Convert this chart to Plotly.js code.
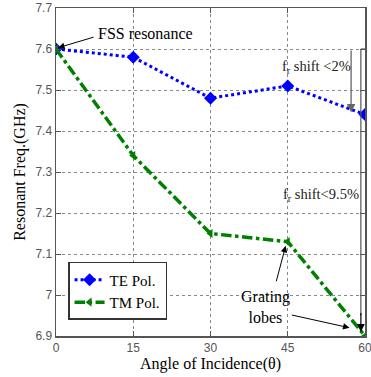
<!DOCTYPE html>
<html><head><meta charset="utf-8">
<script src="https://cdn.plot.ly/plotly-3.0.1.min.js"></script>
<style>body{margin:0;background:#fff}#c{width:371px;height:377px}</style>
</head><body><div id="c"></div>
<script>
var angles = [0, 15, 30, 45, 60];
var teFreq = [7.60, 7.58, 7.48, 7.51, 7.44];
var tmFreq = [7.60, 7.34, 7.15, 7.13, 6.90];
var xTicks = [0, 15, 30, 45, 60];
var yTicks = [6.9, 7.0, 7.1, 7.2, 7.3, 7.4, 7.5, 7.6, 7.7];
var yTickText = ['6.9', '7', '7.1', '7.2', '7.3', '7.4', '7.5', '7.6', '7.7'];

var serif = 'Liberation Serif, Times New Roman, serif';
var te = {x: angles, y: teFreq, name: 'TE Pol.', mode: 'lines+markers', type: 'scatter',
  line: {color: '#0000ff', width: 3, dash: 'dot'},
  marker: {symbol: 'diamond', size: 10, color: '#0000ff'}};
var tm = {x: angles, y: tmFreq, name: 'TM Pol.', mode: 'lines+markers', type: 'scatter',
  line: {color: '#008000', width: 3.5, dash: 'dashdot'},
  marker: {symbol: 'triangle-left', size: 8, color: '#008000'}};

var axCommon = {showline: true, linecolor: '#555', linewidth: 1.5, mirror: 'ticks',
  ticks: 'inside', ticklen: 5, tickcolor: '#555', showgrid: true, gridcolor: '#888',
  griddash: 'dot', gridwidth: 1, zeroline: false, ticklabeloverflow: 'allow',
  tickfont: {family: 'Liberation Sans, Arial, sans-serif', size: 12, color: '#555'}};

var layout = {
  width: 371, height: 377, margin: {l: 56, r: 6, t: 8, b: 41},
  paper_bgcolor: '#fff', plot_bgcolor: '#fff', showlegend: true,
  xaxis: Object.assign({}, axCommon, {range: [0, 60], tickvals: xTicks,
    title: {text: 'Angle of Incidence(θ)', font: {family: serif, size: 16, color: '#000'}, standoff: 4}}),
  yaxis: Object.assign({}, axCommon, {range: [6.9, 7.7], tickvals: yTicks, ticktext: yTickText,
    title: {text: 'Resonant Freq.(GHz)', font: {family: serif, size: 16, color: '#000'}, standoff: 6}}),
  legend: {x: 0.039, y: 0.049, xanchor: 'left', yanchor: 'bottom', bgcolor: '#fff',
    bordercolor: '#333', borderwidth: 1.5, font: {family: serif, size: 15, color: '#000'},
    tracegroupgap: 0},
  shapes: [
    {type: 'line', xref: 'x', yref: 'y', x0: 59.2, x1: 60, y0: 7.6, y1: 7.6, line: {color: '#555', width: 1.2}},
    {type: 'line', xref: 'x', yref: 'y', x0: 59.2, x1: 59.2, y0: 7.6, y1: 6.95, line: {color: '#555', width: 1.2}}
  ],
  annotations: [
    {x: 0.4, y: 7.603, ax: 7.6, ay: 7.63, xref: 'x', yref: 'y', axref: 'x', ayref: 'y',
      showarrow: true, arrowhead: 2, arrowsize: 1.3, arrowwidth: 1, arrowcolor: '#000', text: ''},
    {x: 7.8, y: 7.637, xref: 'x', yref: 'y', text: 'FSS resonance', showarrow: false, xanchor: 'left',
      font: {family: serif, size: 16, color: '#000'}},
    {x: 57.3, y: 7.445, ax: 57.3, ay: 7.6, xref: 'x', yref: 'y', axref: 'x', ayref: 'y',
      showarrow: true, arrowhead: 2, arrowsize: 1.3, arrowwidth: 1.3, arrowcolor: '#666', text: ''},
    {x: 50.5, y: 7.555, xref: 'x', yref: 'y', text: 'f<sub>r</sub> shift <2%', showarrow: false,
      font: {family: serif, size: 14.5, color: '#222'}},
    {x: 59.2, y: 6.91, ax: 59.2, ay: 6.96, xref: 'x', yref: 'y', axref: 'x', ayref: 'y',
      showarrow: true, arrowhead: 2, arrowsize: 1.3, arrowwidth: 1.2, arrowcolor: '#000', text: ''},
    {x: 51.4, y: 7.243, xref: 'x', yref: 'y', text: 'f<sub>r</sub> shift<9.5%', showarrow: false,
      font: {family: serif, size: 14.5, color: '#222'}},
    {x: 40.6, y: 6.97, xref: 'x', yref: 'y', text: 'Grating<br>lobes', showarrow: false,
      font: {family: serif, size: 16, color: '#000'}},
    {x: 44.6, y: 7.12, ax: 42.7, ay: 7.03, xref: 'x', yref: 'y', axref: 'x', ayref: 'y',
      showarrow: true, arrowhead: 2, arrowsize: 1.3, arrowwidth: 1, arrowcolor: '#000', text: ''},
    {x: 57.0, y: 6.92, ax: 45.5, ay: 6.952, xref: 'x', yref: 'y', axref: 'x', ayref: 'y',
      showarrow: true, arrowhead: 2, arrowsize: 1.3, arrowwidth: 1, arrowcolor: '#000', text: ''}
  ]
};
Plotly.newPlot('c', [te, tm], layout, {displayModeBar: false, staticPlot: true});
</script></body></html>
